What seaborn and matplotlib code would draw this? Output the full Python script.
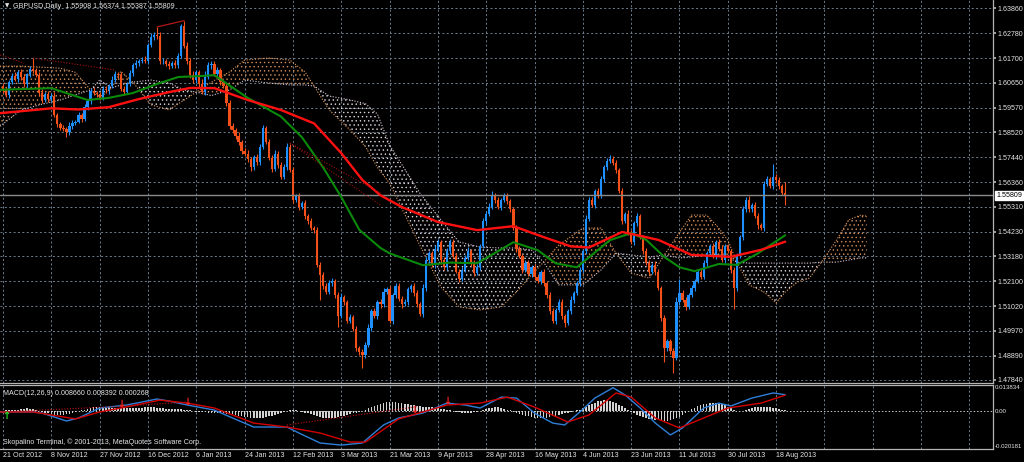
import numpy as np
import pandas as pd
import matplotlib
matplotlib.use("Agg")
import matplotlib.pyplot as plt
import matplotlib.transforms as mtransforms
import seaborn as sns

# ---- daily GBPUSD bars, bar 0 = 21 Oct 2012 ----
first_open = 1.6050
closes = [
    1.6035, 1.6012, 1.6068, 1.6095, 1.6080, 1.6112, 1.6090, 1.6058, 1.6102, 1.6125, 1.6118, 1.6098, 1.6021, 1.5990, 1.6015, 1.5996, 1.6008, 1.5925, 1.5888, 1.5872,
    1.5865, 1.5852, 1.5880, 1.5893, 1.5898, 1.5925, 1.5910, 1.5960, 1.5985, 1.6030, 1.6022, 1.6015, 1.6001, 1.6040, 1.6032, 1.6050, 1.6078, 1.6105, 1.6098, 1.6040,
    1.6025, 1.6060, 1.6108, 1.6140, 1.6150, 1.6158, 1.6165, 1.6160, 1.6228, 1.6262, 1.6270, 1.6265, 1.6158, 1.6160, 1.6145, 1.6138, 1.6150, 1.6142, 1.6180, 1.6310,
    1.6225, 1.6160, 1.6100, 1.6075, 1.6110, 1.6062, 1.6025, 1.6090, 1.6140, 1.6148, 1.6105, 1.6120, 1.6070, 1.6050, 1.5978, 1.5880, 1.5860, 1.5835, 1.5808, 1.5770,
    1.5760, 1.5735, 1.5700, 1.5745, 1.5722, 1.5790, 1.5870, 1.5812, 1.5740, 1.5695, 1.5760, 1.5712, 1.5660, 1.5700, 1.5790, 1.5690, 1.5560, 1.5575, 1.5530, 1.5545,
    1.5490, 1.5470, 1.5440, 1.5430, 1.5280, 1.5235, 1.5190, 1.5165, 1.5200, 1.5210, 1.5150, 1.5060, 1.5140, 1.5120, 1.5040, 1.5055, 1.5005, 1.4920, 1.4905, 1.4890,
    1.4935, 1.5010, 1.5080, 1.5060, 1.5120, 1.5110, 1.5165, 1.5175, 1.5040, 1.5150, 1.5190, 1.5135, 1.5110, 1.5120, 1.5175, 1.5190, 1.5160, 1.5110, 1.5070, 1.5180,
    1.5300, 1.5330, 1.5280, 1.5350, 1.5380, 1.5300, 1.5270, 1.5340, 1.5380, 1.5320, 1.5250, 1.5220, 1.5260, 1.5310, 1.5340, 1.5290, 1.5245, 1.5270, 1.5360, 1.5470,
    1.5500, 1.5530, 1.5580, 1.5560, 1.5530, 1.5560, 1.5575, 1.5555, 1.5520, 1.5440, 1.5350, 1.5320, 1.5260, 1.5290, 1.5240, 1.5270, 1.5230, 1.5210, 1.5250, 1.5200,
    1.5150, 1.5080, 1.5040, 1.5085, 1.5120, 1.5060, 1.5030, 1.5080, 1.5130, 1.5160, 1.5200, 1.5260, 1.5340, 1.5480, 1.5560, 1.5540, 1.5600, 1.5580, 1.5650, 1.5700,
    1.5730, 1.5735, 1.5720, 1.5690, 1.5600, 1.5470, 1.5500, 1.5420, 1.5380, 1.5460, 1.5490, 1.5400, 1.5340, 1.5290, 1.5250, 1.5280, 1.5250, 1.5180, 1.5050, 1.4920,
    1.4950, 1.4910, 1.4880, 1.5120, 1.5160, 1.5130, 1.5100, 1.5150, 1.5180, 1.5210, 1.5250, 1.5230, 1.5290, 1.5330, 1.5360, 1.5320, 1.5380, 1.5350, 1.5300, 1.5360,
    1.5340, 1.5260, 1.5180, 1.5320, 1.5400, 1.5520, 1.5560, 1.5520, 1.5540, 1.5490, 1.5450, 1.5440, 1.5630, 1.5650, 1.5620, 1.5660, 1.5645, 1.5620, 1.55908, 1.55809,
]
# wick lengths in pips
up_wick = [
    10, 14, 8, 12, 16, 9, 11, 15, 7, 13, 45, 10, 12, 18, 9, 14, 11, 16, 8, 10,
    12, 9, 15, 11, 7, 13, 10, 14, 9, 12, 16, 8, 11, 13, 10, 9, 15, 12, 8, 14,
    11, 10, 13, 9, 12, 8, 10, 14, 9, 16, 12, 36, 20, 11, 9, 13, 10, 15, 12, 8,
    23, 14, 11, 16, 10, 12, 18, 25, 13, 9, 12, 15, 10, 8, 14, 11, 13, 9, 16, 10,
    12, 14, 10, 9, 15, 11, 13, 8, 10, 12, 14, 9, 11, 16, 15, 12, 10, 9, 13, 11,
    14, 10, 12, 9, 15, 11, 16, 10, 13, 12, 9, 14, 18, 11, 10, 13, 9, 12, 10, 14,
    11, 15, 9, 13, 10, 12, 16, 11, 14, 9, 13, 10, 12, 15, 11, 9, 14, 10, 12, 16,
    13, 11, 10, 14, 12, 9, 15, 11, 13, 10, 12, 14, 9, 11, 16, 10, 12, 13, 9, 14,
    11, 15, 20, 10, 12, 9, 13, 16, 11, 10, 14, 12, 9, 13, 11, 10, 15, 12, 9, 14,
    10, 12, 13, 9, 11, 15, 10, 12, 14, 9, 11, 13, 10, 16, 12, 14, 9, 11, 13, 10,
    12, 19, 14, 11, 9, 13, 10, 15, 12, 9, 14, 11, 10, 13, 12, 9, 15, 11, 10, 13,
    12, 9, 14, 20, 60, 11, 13, 10, 12, 9, 14, 11, 13, 10, 12, 15, 9, 11, 14, 10,
    12, 9, 11, 13, 10, 14, 12, 16, 9, 11, 13, 10, 12, 15, 11, 55, 10, 12, 9, 47,
]
dn_wick = [
    12, 9, 14, 10, 8, 13, 11, 9, 15, 10, 12, 8, 14, 11, 9, 13, 10, 8, 12, 11,
    9, 22, 10, 13, 11, 8, 12, 9, 14, 10, 11, 13, 9, 12, 10, 14, 8, 11, 13, 9,
    12, 10, 9, 13, 11, 14, 8, 10, 12, 9, 13, 11, 10, 14, 9, 12, 10, 13, 11, 9,
    10, 12, 14, 9, 11, 13, 10, 12, 9, 14, 11, 10, 13, 9, 12, 15, 10, 11, 9, 13,
    12, 10, 14, 9, 11, 13, 10, 12, 9, 14, 11, 13, 10, 9, 12, 11, 14, 10, 13, 9,
    11, 12, 10, 14, 9, 105, 13, 10, 12, 9, 11, 47, 10, 13, 9, 12, 11, 10, 14, 54,
    12, 10, 13, 9, 11, 14, 10, 12, 9, 13, 11, 10, 14, 9, 12, 11, 13, 10, 9, 14,
    11, 12, 10, 13, 9, 14, 11, 10, 12, 9, 5, 13, 10, 11, 9, 14, 12, 10, 13, 9,
    12, 10, 11, 13, 9, 14, 10, 12, 11, 9, 13, 10, 14, 12, 9, 11, 13, 10, 12, 9,
    14, 11, 10, 13, 9, 12, 16, 10, 11, 13, 9, 12, 10, 14, 11, 9, 13, 10, 12, 11,
    9, 12, 10, 13, 11, 14, 9, 12, 10, 13, 11, 9, 14, 10, 12, 11, 13, 9, 10, 60,
    11, 13, 65, 9, 12, 10, 14, 11, 9, 13, 10, 12, 11, 14, 9, 10, 13, 12, 9, 11,
    10, 13, 90, 11, 9, 12, 10, 14, 11, 9, 13, 10, 12, 11, 9, 14, 10, 12, 11, 42,
]

# moving averages (bar index, price)
red_ma_idx = [-1, 16, 25, 35, 45, 55, 62, 70, 81, 92, 103, 112, 119, 125, 132, 144, 157, 169, 179, 188, 194, 205, 217, 228, 241, 251, 259]
red_ma = [1.5934, 1.5955, 1.5950, 1.5960, 1.5995, 1.6025, 1.6043, 1.6042, 1.5991, 1.5948, 1.5890, 1.5762, 1.5646, 1.5580, 1.5530,
          1.5465, 1.5430, 1.5447, 1.5400, 1.5360, 1.5355, 1.5422, 1.5388, 1.5323, 1.5315, 1.5345, 1.5380]
green_ma_idx = [-1, 16, 28, 35, 43, 51, 58, 65, 70, 81, 92, 99, 106, 112, 118, 125, 128, 139, 148, 157, 164, 169, 177, 183, 190,
                201, 208, 213, 219, 224, 229, 237, 243, 250, 259]
green_ma = [1.6035, 1.6042, 1.5991, 1.6000, 1.6021, 1.6060, 1.6090, 1.6094, 1.6098, 1.6000, 1.5920, 1.5830, 1.5700, 1.5573, 1.5431,
            1.5353, 1.5330, 1.5279, 1.5290, 1.5287, 1.5340, 1.5378, 1.5344, 1.5287, 1.5270, 1.5387, 1.5417, 1.5388, 1.5314, 1.5270,
            1.5253, 1.5284, 1.5280, 1.5330, 1.5408]

# ichimoku cloud spans (bar index, span A, span B)
cloud_idx = [-1, 6, 12, 19, 24, 29, 32, 36, 39, 43, 49, 55, 60, 64, 69, 75, 80, 88, 95, 100, 103, 108, 115, 120, 124, 128, 138,
             145, 151, 158, 165, 170, 175, 179, 184, 192, 198, 203, 208, 214, 219, 224, 228, 233, 237, 240, 243, 247, 252, 256,
             259, 263, 267, 271, 276, 280, 284, 286]
span_a = [1.6137, 1.6137, 1.6133, 1.6128, 1.6110, 1.6034, 1.6000, 1.6043, 1.6115, 1.6068, 1.5970, 1.5948, 1.5991, 1.6025, 1.6068,
          1.6112, 1.6163, 1.6172, 1.6163, 1.6112, 1.6051, 1.5948, 1.5861, 1.5790, 1.5700, 1.5632, 1.5365, 1.5185, 1.5099, 1.5086,
          1.5099, 1.5163, 1.5237, 1.5292, 1.5365, 1.5439, 1.5439, 1.5331, 1.5245, 1.5223, 1.5323, 1.5421, 1.5495, 1.5495, 1.5439,
          1.5387, 1.5292, 1.5194, 1.5163, 1.5116, 1.5163, 1.5206, 1.5223, 1.5292, 1.5387, 1.5474, 1.5495, 1.5490]
span_b = [1.5878, 1.5948, 1.5970, 1.5991, 1.6013, 1.6034, 1.6077, 1.6043, 1.6056, 1.6068, 1.6077, 1.6064, 1.6034, 1.6025, 1.6010,
          1.6034, 1.6077, 1.6064, 1.6056, 1.6056, 1.6051, 1.6008, 1.5991, 1.5975, 1.5930, 1.5797, 1.5590, 1.5474, 1.5379, 1.5357,
          1.5353, 1.5353, 1.5344, 1.5292, 1.5194, 1.5194, 1.5258, 1.5331, 1.5323, 1.5314, 1.5323, 1.5310, 1.5314, 1.5323, 1.5323,
          1.5314, 1.5292, 1.5288, 1.5288, 1.5288, 1.5288, 1.5288, 1.5288, 1.5292, 1.5292, 1.5301, 1.5310, 1.5310]

# MACD(12,26,9) lines (bar index, value) and histogram (x 1e-4, one per bar)
macd_idx = [-1, 10, 13, 21, 25, 32, 41, 51, 55, 61, 70, 76, 83, 94, 98, 105, 112, 119, 126, 131, 139, 147, 153, 158, 165, 170,
            176, 182, 186, 191, 196, 202, 206, 211, 216, 221, 225, 232, 237, 241, 248, 255, 259]
macd_main = [-0.0005, -0.0005, -0.0011, -0.0053, -0.0037, 0.0016, 0.0032, 0.0064, 0.0053, 0.0032, 0.0005, -0.0037, -0.0085,
             -0.0085, -0.0117, -0.0170, -0.0181, -0.0170, -0.0074, -0.0037, -0.0011, 0.0042, 0.0032, 0.0016, 0.0074, 0.0069,
             -0.0011, -0.0064, -0.0074, -0.0005, 0.0069, 0.0124, 0.0085, 0.0016, -0.0064, -0.0127, -0.0090, 0.0016, 0.0042,
             0.0027, 0.0069, 0.0096, 0.00866]
sig_idx = [-1, 10, 24, 32, 39, 52, 61, 70, 83, 94, 105, 115, 120, 131, 147, 158, 167, 176, 187, 194, 203, 208, 216, 224, 232,
           240, 251, 259]
macd_signal = [-0.0005, -0.0005, -0.0042, -0.0005, 0.0016, 0.0058, 0.0042, 0.0016, -0.0064, -0.0085, -0.0117, -0.0165, -0.0165,
               -0.0042, 0.0032, 0.0042, 0.0074, 0.0021, -0.0058, -0.0021, 0.0096, 0.0074, -0.0037, -0.0090, -0.0037, 0.0016,
               0.0042, 0.008392]
macd_hist = [
    2, 3, 4, 5, 6, 8, 10, 12, 14, 12, 10,
    6, 2, -3, -8, -12, -16, -19, -21, -22, -21, -18, -14, -10, -6,
    -2, 3, 8, 12, 16, 19, 21, 22, 21, 20, 19,
    18, 17, 16, 16, 15, 15, 14, 15, 16, 17, 18, 19, 20, 20, 19, 18, 16, 14, 13, 12, 11, 10, 10, 9, 8, 6,
    3, 0, -3, -5, -6, -7, -8, -8, -9, -10, -11, -12, -14, -16, -18,
    -21, -24, -27, -30, -33, -35, -37, -38, -37, -35, -32, -28, -24, -20, -15, -10, -6, -2,
    3, 5, 4, 1,
    -4, -8, -13, -18, -23, -28, -32, -35, -37, -38, -37, -35, -32, -28, -24, -20, -16, -12, -8, -4,
    2, 8, 14, 20, 26, 32, 37, 42, 46, 49, 50, 48, 45, 41,
    38, 35, 32, 30, 28, 26, 24, 22, 21, 20, 18, 16, 13, 10, 7, 4,
    0, -3, -6, -8, -10, -10, -9, -7, -4, -1,
    4, 9, 14, 18, 21, 21, 18, 13,
    8, 3, -3, -9, -15, -20, -25, -29, -33, -36, -38, -38, -37, -35, -32, -29, -25, -21, -17, -13, -9, -5, -1, 3,
    8, 15, 22, 30, 38, 45, 51, 55, 57, 56, 53, 48, 42, 34, 25, 15,
    5, -5, -13, -20, -26, -31, -36, -40, -44, -47, -50, -52, -53, -53, -50, -45, -38, -30,
    -20, -10, 0, 10, 18, 25, 31, 36, 40, 42, 43, 42, 39, 35, 30, 24,
    16, 8, 2, -2, 0,
    5, 10, 15, 19, 21, 22, 22, 21, 19, 17, 14, 10, 6, 3,
]

date_labels = ["21 Oct 2012", "8 Nov 2012", "27 Nov 2012", "16 Dec 2012", "6 Jan 2013", "24 Jan 2013", "12 Feb 2013",
               "3 Mar 2013", "21 Mar 2013", "9 Apr 2013", "28 Apr 2013", "16 May 2013", "4 Jun 2013", "23 Jun 2013",
               "11 Jul 2013", "30 Jul 2013", "18 Aug 2013"]
price_ticks = [1.63860, 1.62780, 1.61700, 1.60650, 1.59570, 1.58520, 1.57440, 1.56360, 1.55310, 1.54230, 1.53180,
               1.52100, 1.51020, 1.49970, 1.48890, 1.47840]
last_price = 1.55809

# zigzag / divergence marks (bar index, value)
zz_dotted = [((-1, 1.6185), (7, 1.6150)), ((10, 1.6172), (37, 1.6120)),
             ((95, 1.5805), (125, 1.5590)), ((95, 1.5805), (125, 1.5538))]
zz_solid = ((51, 1.6306), (60, 1.6333))
macd_dotted = [((1, -0.0004), (39, 0.0025)), ((39, 0.0025), (61, 0.0048)), ((94, -0.0074), (137, 0.0023))]
macd_down_arrows = [(39, 0.0036), (61, 0.0046), (136, 0.0008), (147, 0.0052)]
macd_up_arrows = [(1, -0.0024)]

assert len(closes) == len(up_wick) == len(dn_wick) == len(macd_hist) == 260

# ---- build OHLC ----
df = pd.DataFrame({"close": closes})
df["open"] = [first_open] + closes[:-1]
df["high"] = df[["open", "close"]].max(axis=1) + np.array(up_wick) * 1e-4
df["low"] = df[["open", "close"]].min(axis=1) - np.array(dn_wick) * 1e-4
df["idx"] = np.arange(len(df))

# ---- style ----
sns.set_theme(style="dark", rc={"axes.facecolor": "black", "figure.facecolor": "black"})
plt.rcParams["font.family"] = ["Liberation Sans", "DejaVu Sans"]
plt.rcParams["hatch.linewidth"] = 0.5

FG = "#e6e6e6"
GRID = "#6f7f8f"
FRAME = "#b4b4b4"
BULL = "#1e90ff"
BEAR = "#f4511a"
FS = 5.1
W, H = 1024, 462

fig = plt.figure(figsize=(W / 100, H / 100), dpi=100)
fig.patch.set_facecolor("black")
ax = fig.add_axes([0, (H - 383) / H, 993 / W, 383 / H])
ax2 = fig.add_axes([0, (H - 449) / H, 993 / W, 64 / H])

xmax = (993 - 3) / 3.02
grid_pos = list(range(0, 330, 16))

for a in (ax, ax2):
    a.set_facecolor("black")
    a.set_xlim(-1, xmax)
    for side in ("left", "top"):
        a.spines[side].set_visible(False)
    for side in ("right", "bottom"):
        a.spines[side].set_color(FRAME)
        a.spines[side].set_linewidth(0.9)
    a.set_xticks(grid_pos)
    a.grid(False)
    for gx in grid_pos:
        a.axvline(gx, color=GRID, lw=0.7, ls=(0, (2, 2.5)), zorder=0)
ax2.spines["top"].set_visible(True)
ax2.spines["top"].set_color(FRAME)
ax2.spines["top"].set_linewidth(0.9)

# ---- main panel ----
ax.set_ylim(1.4771, 1.6422)
for p in price_ticks:
    ax.axhline(p, color=GRID, lw=0.7, ls=(0, (2, 2.5)), zorder=0)

# cloud
ci = np.array(cloud_idx, dtype=float)
sa = np.array(span_a)
sb = np.array(span_b)
ax.fill_between(ci, sa, sb, where=sa >= sb, interpolate=True, facecolor="none",
                edgecolor="#d08c5a", hatch="....", linewidth=0, zorder=1)
ax.fill_between(ci, sa, sb, where=sa < sb, interpolate=True, facecolor="none",
                edgecolor="#ddd4dd", hatch="....", linewidth=0, zorder=1)
ax.plot(ci, sa, color="#e0985a", lw=0.8, ls=(0, (1, 1.5)), zorder=1)
ax.plot(ci, sb, color="#d8c8d8", lw=0.8, ls=(0, (1, 1.5)), zorder=1)

# candles
bull = df["close"] >= df["open"]
cols = np.where(bull, BULL, BEAR)
ax.vlines(df["idx"], df["low"], df["high"], colors=cols, lw=0.8, zorder=2)
body_lo = df[["open", "close"]].min(axis=1)
body_h = np.maximum((df["close"] - df["open"]).abs(), 0.00012)
ax.bar(df["idx"], body_h, bottom=body_lo, width=0.74, color=cols, linewidth=0, zorder=2)

# moving averages
sns.lineplot(x=green_ma_idx, y=green_ma, ax=ax, color="#0a8a0a", lw=1.5, zorder=3)
sns.lineplot(x=red_ma_idx, y=red_ma, ax=ax, color="#ff1010", lw=1.7, zorder=3)

for (x0, y0), (x1, y1) in zz_dotted:
    ax.plot([x0, x1], [y0, y1], color="#a01010", lw=0.8, ls=(0, (1, 1.5)), zorder=3)
ax.plot([zz_solid[0][0], zz_solid[1][0]], [zz_solid[0][1], zz_solid[1][1]], color="#b01818", lw=0.9, zorder=3)

# current price line and box
ax.axhline(last_price, color="#8a8a8a", lw=1.0, zorder=2.5)
ax.yaxis.tick_right()
ax.set_yticks(price_ticks)
ax.set_yticklabels([f"{p:.5f}" for p in price_ticks])
ax.tick_params(axis="y", colors=FG, labelsize=FS, length=2, pad=1.5, right=True, color=FRAME)
ax.tick_params(axis="x", bottom=False, labelbottom=False)
trans = mtransforms.blended_transform_factory(ax.transAxes, ax.transData)
ax.text(1.0035, last_price, f"{last_price:.5f}", transform=trans, ha="left", va="center",
        fontsize=FS, color="black", clip_on=False,
        bbox=dict(boxstyle="square,pad=0.15", facecolor="white", edgecolor="white"))

fig.text(5 / W, 1 - 6 / H, "\u25bc", color=FG, fontsize=4, va="center", ha="left", family=["DejaVu Sans"])
fig.text(13 / W, 1 - 6 / H, "GBPUSD,Daily  1.55908 1.56374 1.55387 1.55809", color=FG, fontsize=FS,
         va="center", ha="left")

# ---- MACD panel ----
ax2.set_ylim(-0.020181, 0.013834)
ax2.axhline(0, color="#c8c8c8", lw=0.7, ls=(0, (1.5, 2)), zorder=0)
ax2.bar(df["idx"], np.array(macd_hist) * 1e-4, width=0.55, color="#d2d2d2", linewidth=0, zorder=1)
sns.lineplot(x=macd_idx, y=macd_main, ax=ax2, color="#2f7fd8", lw=1.0, zorder=2)
sns.lineplot(x=sig_idx, y=macd_signal, ax=ax2, color="#d40000", lw=1.0, zorder=2)
for (x0, y0), (x1, y1) in macd_dotted:
    ax2.plot([x0, x1], [y0, y1], color="#c01010", lw=0.8, ls=(0, (1, 1.5)), zorder=2)
for xa, ya in macd_down_arrows:
    ax2.text(xa, ya, "\u2193", color="#ff2020", fontsize=7, ha="center", va="center",
             family=["DejaVu Sans"], fontweight="bold", zorder=4)
for xa, ya in macd_up_arrows:
    ax2.text(xa, ya, "\u2191", color="#20e020", fontsize=7, ha="center", va="center",
             family=["DejaVu Sans"], fontweight="bold", zorder=4)

ax2.yaxis.tick_right()
ax2.set_yticks([0.013834, 0.0, -0.020181])
ax2.set_yticklabels(["0.013834", "0.00", "-0.020181"])
ax2.tick_params(axis="y", colors=FG, labelsize=4.4, length=0, pad=1.5)
ylabs = ax2.get_yticklabels()
ylabs[0].set_va("top")
ylabs[2].set_va("bottom")

ax2.set_xticklabels(date_labels + [""] * (len(grid_pos) - len(date_labels)))
ax2.tick_params(axis="x", colors=FG, labelsize=FS, length=0, pad=2.5)
for lbl in ax2.get_xticklabels():
    lbl.set_ha("left")

ax2.text(0.003, 0.92, "MACD(12,26,9) 0.008660 0.008392 0.000268", transform=ax2.transAxes,
         color=FG, fontsize=FS, ha="left", va="top")
ax2.text(0.003, 0.05, "Skopalino Terminal, \u00a9 2001-2013, MetaQuotes Software Corp.", transform=ax2.transAxes,
         color=FG, fontsize=FS, ha="left", va="bottom")

ax.set_xlabel("")
ax.set_ylabel("")
ax2.set_xlabel("")
ax2.set_ylabel("")

fig.savefig("out.png", dpi=100, facecolor="black")
